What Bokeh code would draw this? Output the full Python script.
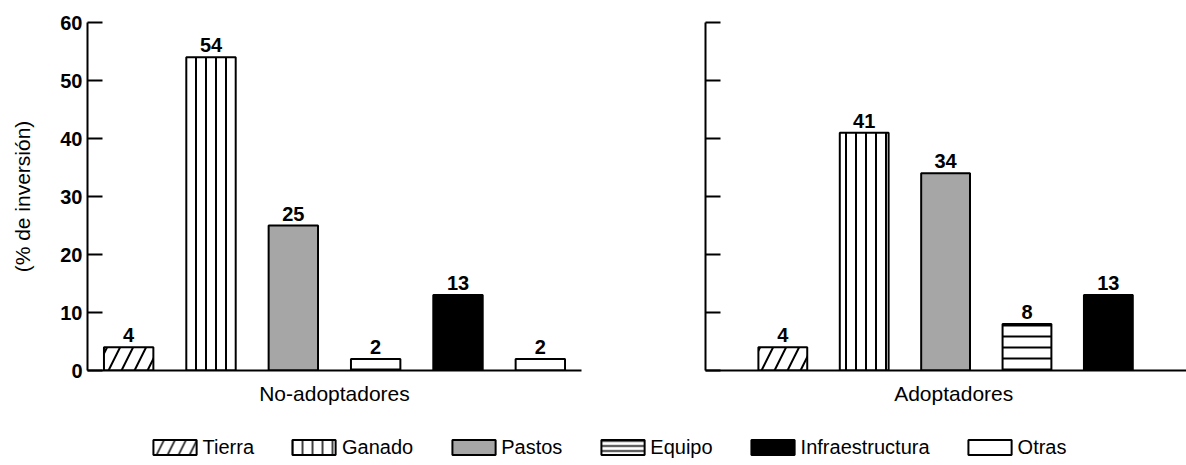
from bokeh.plotting import figure
from bokeh.models import Range1d, FixedTicker, ColumnDataSource, Legend, LegendItem
from bokeh.layouts import column, row
from bokeh.embed import file_html
from bokeh.resources import INLINE
from bokeh.core.properties import value

# ---------------- data ----------------
categories = ["Tierra", "Ganado", "Pastos", "Equipo", "Infraestructura", "Otras"]
no_adoptadores = [4, 54, 25, 2, 13, 2]
adoptadores = [4, 41, 34, 8, 13]          # "Otras" not visible for this group
group_labels = ["No-adoptadores", "Adoptadores"]
y_ticks = [0, 10, 20, 30, 40, 50, 60]
y_label = "(% de inversión)"

FONT = "Liberation Sans"

STYLE = {
    "Tierra":          dict(fill_color="white",   hatch_pattern="/", hatch_scale=26, legend_scale=22),
    "Ganado":          dict(fill_color="white",   hatch_pattern="|", hatch_scale=10, legend_scale=10),
    "Pastos":          dict(fill_color="#a6a6a6", hatch_pattern=" ", hatch_scale=10, legend_scale=10),
    "Equipo":          dict(fill_color="white",   hatch_pattern="-", hatch_scale=11, legend_scale=5),
    "Infraestructura": dict(fill_color="black",   hatch_pattern=" ", hatch_scale=10, legend_scale=10),
    "Otras":           dict(fill_color="white",   hatch_pattern=" ", hatch_scale=10, legend_scale=10),
}


def make_panel(vals, x_start, x_end, label_pos, label, width, bl, br, bt, bb, show_ylabels):
    cats = categories[:len(vals)]
    src = ColumnDataSource(dict(
        x=list(range(len(vals))),
        top=vals,
        cat=cats,
        txt=[str(v) for v in vals],
        fill=[STYLE[c]["fill_color"] for c in cats],
        hp=[STYLE[c]["hatch_pattern"] for c in cats],
        hs=[STYLE[c]["hatch_scale"] for c in cats],
    ))
    p = figure(width=width, height=408, output_backend="svg", toolbar_location=None,
               x_range=Range1d(x_start, x_end), y_range=Range1d(0, 60),
               min_border_left=bl, min_border_right=br, min_border_top=bt, min_border_bottom=bb)
    p.outline_line_color = None
    p.grid.visible = False
    p.background_fill_color = "white"
    p.border_fill_color = "white"

    p.vbar(x="x", top="top", bottom=0, width=0.6, source=src,
           fill_color="fill", line_color="black", line_width=2,
           hatch_pattern="hp", hatch_scale="hs", hatch_weight=2, hatch_color="black")
    p.text(x="x", y="top", text="txt", source=src, text_align="center",
           text_baseline="bottom", y_offset=-5, text_font=value(FONT),
           text_font_size="20px", text_font_style="bold", text_color="black")

    ya = p.yaxis[0]
    ya.ticker = FixedTicker(ticks=y_ticks)
    ya.minor_tick_line_color = None
    ya.major_tick_in = 15
    ya.major_tick_out = 0
    ya.major_tick_line_width = 2
    ya.major_tick_line_color = "black"
    ya.axis_line_width = 2
    ya.axis_line_color = "black"
    if show_ylabels:
        ya.major_label_text_font = FONT
        ya.major_label_text_font_size = "20px"
        ya.major_label_text_font_style = "bold"
        ya.major_label_text_color = "black"
        ya.major_label_standoff = 5
        ya.axis_label = y_label
        ya.axis_label_text_font = FONT
        ya.axis_label_text_font_size = "21px"
        ya.axis_label_text_font_style = "normal"
        ya.axis_label_text_color = "black"
        ya.axis_label_standoff = 23
    else:
        ya.major_label_overrides = {t: "" for t in y_ticks}

    xa = p.xaxis[0]
    xa.ticker = FixedTicker(ticks=[label_pos])
    xa.major_label_overrides = {label_pos: label}
    xa.major_tick_in = 0
    xa.major_tick_out = 0
    xa.minor_tick_line_color = None
    xa.axis_line_width = 2
    xa.axis_line_color = "black"
    xa.major_label_text_font = FONT
    xa.major_label_text_font_size = "21px"
    xa.major_label_text_color = "black"
    xa.major_label_standoff = 11
    return p


p1 = make_panel(no_adoptadores, -0.5, 5.5, 2.5, group_labels[0], 640, 87, 59, 19, 38, True)
p2 = make_panel(adoptadores, -0.95, 4.96, 2.1, group_labels[1], 546, 65, 0, 22, 36, False)

# legend strip
p3 = figure(width=1186, height=50, output_backend="svg", toolbar_location=None,
            x_range=Range1d(0, 1), y_range=Range1d(0, 1),
            min_border_left=28, min_border_right=0, min_border_top=28, min_border_bottom=0)
p3.axis.visible = False
p3.grid.visible = False
p3.outline_line_color = None
items = []
for c in categories:
    st = STYLE[c]
    # tiny placeholder renderer hidden behind the opaque legend box: only its swatch shows
    r = p3.vbar(x=[0.5], top=[0.55], bottom=[0.45], width=0.001, fill_color=st["fill_color"],
                line_color="black", line_width=1, hatch_pattern=st["hatch_pattern"],
                hatch_scale=st["legend_scale"], hatch_weight=1.5, hatch_color="black")
    items.append(LegendItem(label=c, renderers=[r]))
leg = Legend(items=items, orientation="horizontal", location="center",
             glyph_width=54, glyph_height=19, label_standoff=1, spacing=33,
             padding=2, margin=0, border_line_color=None,
             background_fill_color="white", background_fill_alpha=1.0,
             label_text_font=FONT, label_text_font_size="20px", label_text_color="black")
for r in leg.items:
    r.renderers[0].glyph.line_width = 1
p3.add_layout(leg, "center")

# legend swatch outline width (legend draws with the renderer's own line width)
for it in items:
    it.renderers[0].glyph.line_width = 2

layout = column(row(p1, p2), p3)
open("out.html", "w").write(file_html(layout, INLINE))
